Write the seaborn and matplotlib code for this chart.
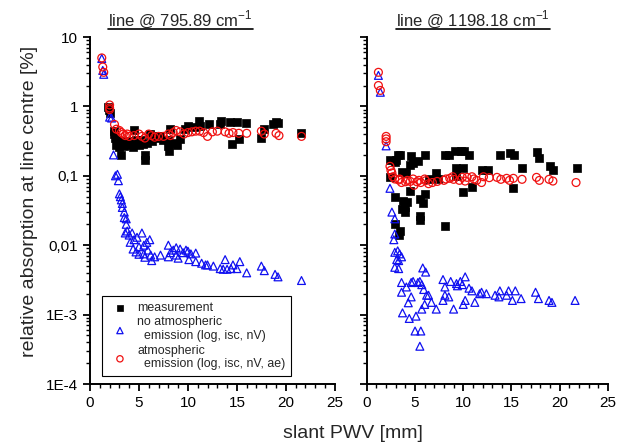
import matplotlib
matplotlib.use("Agg")
import matplotlib.pyplot as plt
import matplotlib.ticker as mticker
from matplotlib.lines import Line2D
import numpy as np
import seaborn as sns

# ---- data: line @ 795.89 cm-1 ----
left_meas_x = [1.85, 1.9, 2.0, 2.4, 2.5, 2.6, 2.7, 2.8, 3.0, 3.1, 3.2, 3.3, 3.5, 3.6, 3.9, 4.0,
               4.2, 4.4, 4.5, 4.7, 4.8, 5.0, 5.2, 5.4, 5.6, 5.6, 5.8, 6.1, 6.3, 6.6, 6.8, 7.1,
               7.5, 8.0, 8.0, 8.1, 8.2, 8.5, 8.9, 9.2, 9.7, 10.0, 10.6, 11.1, 11.2, 12.2, 13.3,
               13.4, 14.3, 14.5, 15.0, 15.2, 15.9, 17.5, 17.8, 18.7, 19.0, 19.2, 21.6]
left_meas_y = [0.97, 0.9, 0.8, 0.44, 0.4, 0.35, 0.28, 0.32, 0.26, 0.29, 0.2, 0.32, 0.27, 0.3, 0.3, 0.28,
               0.32, 0.26, 0.45, 0.33, 0.3, 0.28, 0.33, 0.29, 0.2, 0.17, 0.3, 0.4, 0.32, 0.35, 0.37, 0.38,
               0.33, 0.33, 0.27, 0.23, 0.48, 0.3, 0.28, 0.34, 0.48, 0.53, 0.5, 0.62, 0.52, 0.56, 0.55,
               0.62, 0.6, 0.29, 0.6, 0.34, 0.57, 0.35, 0.47, 0.55, 0.6, 0.58, 0.42]

left_noae_x = [1.2, 1.3, 1.4, 2.0, 2.2, 2.4, 2.6, 2.8, 2.9, 3.0, 3.1, 3.2, 3.3, 3.3, 3.5, 3.5, 3.7,
               3.7, 3.6, 3.8, 4.0, 4.1, 4.3, 4.5, 4.4, 4.8, 4.7, 5.0, 5.0, 5.3, 5.5, 5.5, 5.6, 5.8,
               5.9, 6.1, 6.2, 6.3, 6.6, 7.2, 8.0, 8.0, 8.2, 8.5, 8.8, 8.8, 9.0, 9.2, 9.5, 9.8, 10.0,
               10.1, 10.3, 10.8, 10.8, 11.4, 11.8, 12.0, 12.6, 13.3, 13.6, 13.8, 14.0, 14.4, 14.6,
               15.0, 15.3, 16.0, 17.5, 17.8, 18.9, 19.2, 21.6]
left_noae_y = [4.9, 3.3, 2.9, 0.7, 0.68, 0.2, 0.1, 0.105, 0.085, 0.055, 0.05, 0.045, 0.04, 0.035,
               0.03, 0.025, 0.024, 0.020, 0.015, 0.016, 0.014, 0.011, 0.015, 0.012, 0.0088, 0.013,
               0.008, 0.0095, 0.0074, 0.015, 0.01, 0.0075, 0.0067, 0.011, 0.0085, 0.012, 0.0072,
               0.006, 0.0068, 0.0072, 0.010, 0.0068, 0.0078, 0.0085, 0.0072, 0.0092, 0.0065, 0.0088,
               0.0078, 0.0085, 0.0082, 0.0062, 0.0075, 0.0077, 0.0058, 0.0055, 0.0052, 0.0052,
               0.005, 0.0046, 0.0045, 0.0062, 0.0045, 0.0046, 0.0052, 0.0046, 0.0058, 0.0040,
               0.0050, 0.0043, 0.0038, 0.0035, 0.0031]

left_ae_x = [1.2, 1.3, 1.4, 2.0, 2.0, 2.0, 2.5, 2.7, 3.0, 3.2, 3.4, 3.6, 3.8, 4.0, 4.5, 5.0, 5.3,
             5.6, 6.0, 6.3, 6.6, 7.0, 7.5, 8.0, 8.2, 8.5, 8.8, 9.2, 9.6, 10.0, 10.4, 10.8, 11.2,
             11.6, 12.0, 12.5, 13.0, 13.8, 14.2, 14.6, 15.2, 16.0, 17.5, 17.8, 19.0, 19.3, 21.6]
left_ae_y = [5.0, 3.7, 3.1, 1.05, 0.95, 0.9, 0.55, 0.47, 0.45, 0.42, 0.40, 0.38, 0.40, 0.37, 0.38,
             0.40, 0.37, 0.35, 0.40, 0.38, 0.36, 0.37, 0.37, 0.40, 0.38, 0.42, 0.45, 0.43, 0.40,
             0.42, 0.43, 0.44, 0.44, 0.42, 0.37, 0.43, 0.44, 0.43, 0.41, 0.42, 0.41, 0.41, 0.44,
             0.40, 0.41, 0.38, 0.37]

# ---- data: line @ 1198.18 cm-1 ----
right_meas_x = [2.4, 3.2, 3.4, 4.6, 6.0, 4.8, 5.3, 2.9, 3.0, 4.5, 7.2, 8.1, 8.5, 9.1, 9.8, 10.1,
                10.6, 9.3, 10.0, 11.9, 12.6, 13.8, 14.8, 15.3, 16.1, 17.6, 17.9, 19.0, 19.3, 21.8,
                3.6, 4.1, 2.4, 2.9, 3.7, 4.2, 4.0, 3.6, 4.5, 5.5, 5.8, 6.0, 5.5, 4.0, 6.5, 10.0,
                10.9, 15.2, 7.4, 9.3, 2.9, 3.4, 3.3, 5.5, 8.1]
right_meas_y = [0.17, 0.2, 0.2, 0.19, 0.2, 0.155, 0.165, 0.16, 0.17, 0.145, 0.11, 0.2, 0.2, 0.225,
                0.225, 0.23, 0.2, 0.13, 0.13, 0.12, 0.12, 0.2, 0.21, 0.2, 0.13, 0.22, 0.18, 0.14,
                0.12, 0.13, 0.115, 0.11, 0.095, 0.05, 0.043, 0.042, 0.035, 0.033, 0.06, 0.046,
                0.04, 0.055, 0.026, 0.03, 0.09, 0.058, 0.068, 0.066, 0.09, 0.1, 0.02, 0.016,
                0.014, 0.023, 0.019]

right_noae_x = [1.2, 1.4, 2.0, 2.4, 2.6, 2.9, 2.9, 2.8, 2.9, 3.2, 3.4, 3.1, 3.6, 2.9, 3.3, 3.3,
                3.6, 3.6, 3.7, 4.1, 4.4, 4.6, 4.6, 4.3, 4.8, 5.0, 5.3, 5.1, 5.5, 5.7, 5.6, 5.5,
                5.9, 5.8, 6.1, 5.7, 6.0, 6.2, 6.4, 6.7, 7.2, 7.9, 8.1, 8.1, 7.9, 8.5, 8.7, 9.0,
                9.3, 9.4, 9.7, 9.9, 10.2, 10.0, 10.2, 10.6, 10.9, 11.2, 11.7, 11.9, 12.4, 13.3,
                13.7, 13.8, 14.5, 14.7, 15.1, 15.4, 16.0, 17.5, 17.8, 18.9, 19.2, 21.6]
right_noae_y = [2.8, 1.6, 0.27, 0.066, 0.03, 0.024, 0.0145, 0.012, 0.0079, 0.0083, 0.0075, 0.0062,
                0.0068, 0.0048, 0.0046, 0.006, 0.0029, 0.0021, 0.00106, 0.0025, 0.00088, 0.0029,
                0.0018, 0.00148, 0.003, 0.00058, 0.0029, 0.00095, 0.003, 0.0027, 0.00058, 0.00035,
                0.0023, 0.0047, 0.0041, 0.0012, 0.0014, 0.0019, 0.0019, 0.0015, 0.0012, 0.0032,
                0.0025, 0.0019, 0.0016, 0.0018, 0.003, 0.0012, 0.0028, 0.0026, 0.003, 0.0027,
                0.0035, 0.0014, 0.0016, 0.0024, 0.0022, 0.0015, 0.002, 0.0021, 0.002, 0.0019,
                0.0018, 0.0022, 0.0019, 0.0022, 0.0016, 0.0022, 0.0017, 0.0021, 0.0017, 0.0016,
                0.0015, 0.0016]

right_ae_x = [1.2, 1.2, 1.4, 2.0, 2.0, 2.0, 2.4, 2.5, 2.6, 2.7, 2.9, 3.3, 3.4, 3.6, 4.0, 4.2, 4.5,
              4.8, 4.9, 5.2, 5.4, 5.6, 6.0, 6.1, 6.4, 6.8, 7.3, 8.0, 8.2, 8.6, 8.9, 9.0, 9.6, 9.9,
              10.2, 10.4, 10.9, 11.1, 11.4, 11.9, 12.1, 12.7, 13.5, 13.9, 14.5, 14.8, 15.2, 16.1,
              17.6, 17.9, 18.9, 19.3, 21.7]
right_ae_y = [3.1, 2.0, 1.7, 0.37, 0.34, 0.31, 0.137, 0.12, 0.11, 0.097, 0.09, 0.087, 0.09, 0.08,
              0.082, 0.086, 0.083, 0.09, 0.073, 0.082, 0.086, 0.08, 0.09, 0.085, 0.077, 0.08,
              0.083, 0.086, 0.09, 0.092, 0.097, 0.089, 0.086, 0.095, 0.084, 0.095, 0.097, 0.09,
              0.086, 0.08, 0.097, 0.094, 0.095, 0.089, 0.092, 0.086, 0.092, 0.089, 0.095, 0.086,
              0.089, 0.084, 0.08]

titles = ["line @ 795.89 cm$^{-1}$", "line @ 1198.18 cm$^{-1}$"]
ytick_vals = [1e-4, 1e-3, 1e-2, 1e-1, 1, 10]
ytick_labels = ["1E-4", "1E-3", "0,01", "0,1", "1", "10"]
legend_labels = ["measurement",
                 "no atmospheric\n  emission (log, isc, nV)",
                 "atmospheric\n  emission (log, isc, nV, ae)"]

sns.set_style("ticks")
plt.rcParams["font.family"] = ["Liberation Sans", "DejaVu Sans"]
plt.rcParams["mathtext.fontset"] = "custom"
plt.rcParams["mathtext.rm"] = "Liberation Sans"

fig = plt.figure(figsize=(6.26, 4.46), dpi=100)
ax_l = fig.add_axes([0.1438, 0.139, 0.391, 0.778])
ax_r = fig.add_axes([0.586, 0.139, 0.385, 0.778])

panels = [
    (ax_l, left_meas_x, left_meas_y, left_noae_x, left_noae_y, left_ae_x, left_ae_y),
    (ax_r, right_meas_x, right_meas_y, right_noae_x, right_noae_y, right_ae_x, right_ae_y),
]

for i, (ax, mx, my, nx, ny, ax_x, ax_y) in enumerate(panels):
    sns.scatterplot(x=mx, y=my, ax=ax, marker="s", s=32, color="black",
                    edgecolor="black", linewidth=0.5, label=legend_labels[0], zorder=2)
    sns.scatterplot(x=nx, y=ny, ax=ax, marker="^", s=32, facecolor="none",
                    edgecolor="#1010f0", linewidth=0.9, label=legend_labels[1], zorder=3)
    sns.scatterplot(x=ax_x, y=ax_y, ax=ax, marker="o", s=32, facecolor="none",
                    edgecolor="#f01010", linewidth=0.9, label=legend_labels[2], zorder=4)
    ax.set_yscale("log")
    ax.set_ylim(1e-4, 10)
    ax.set_xlim(0, 25)
    ax.xaxis.set_major_locator(mticker.MultipleLocator(5))
    ax.xaxis.set_minor_locator(mticker.MultipleLocator(1))
    ax.yaxis.set_major_locator(mticker.FixedLocator(ytick_vals))
    ax.yaxis.set_minor_locator(mticker.LogLocator(base=10, subs=np.arange(2, 10)))
    if i == 0:
        ax.set_yticklabels(ytick_labels)
    else:
        ax.set_yticklabels([])
    ax.yaxis.set_minor_formatter(mticker.NullFormatter())
    ax.tick_params(which="major", direction="out", length=5, width=1.3, labelsize=11,
                   color="black", labelcolor="black")
    ax.tick_params(which="minor", direction="out", length=3, width=1.0, color="black")
    for side in ["top", "right"]:
        ax.spines[side].set_visible(False)
    for side in ["left", "bottom"]:
        ax.spines[side].set_linewidth(1.4)
        ax.spines[side].set_color("black")
    ax.set_xlabel("")
    ax.set_ylabel("")
    ax.get_legend().remove()

ax_l.legend(loc="lower left", bbox_to_anchor=(0.049, 0.023), borderaxespad=0,
            fontsize=8.9, frameon=True, fancybox=False, edgecolor="black", framealpha=1,
            borderpad=0.45, handletextpad=0.4, labelspacing=0.2, markerscale=0.8)
ax_l.get_legend().get_frame().set_linewidth(0.8)

title_x = [0.37, 0.44]
title_texts = []
for ax, t, tx in zip([ax_l, ax_r], titles, title_x):
    title_texts.append(ax.text(tx, 1.02, t, transform=ax.transAxes, ha="center",
                               va="bottom", fontsize=12))

fig.text(0.047, 0.549, "relative absorption at line centre [%]", rotation=90,
         ha="center", va="center", fontsize=14)
fig.text(0.563, 0.027, "slant PWV [mm]", ha="center", va="center", fontsize=14)

# underline titles
fig.canvas.draw()
renderer = fig.canvas.get_renderer()
for t in title_texts:
    bb = t.get_window_extent(renderer).transformed(fig.transFigure.inverted())
    fig.add_artist(Line2D([bb.x0, bb.x1], [bb.y0 + 0.002, bb.y0 + 0.002],
                          transform=fig.transFigure, color="black", linewidth=1.2))

fig.savefig("out.png", dpi=100)
